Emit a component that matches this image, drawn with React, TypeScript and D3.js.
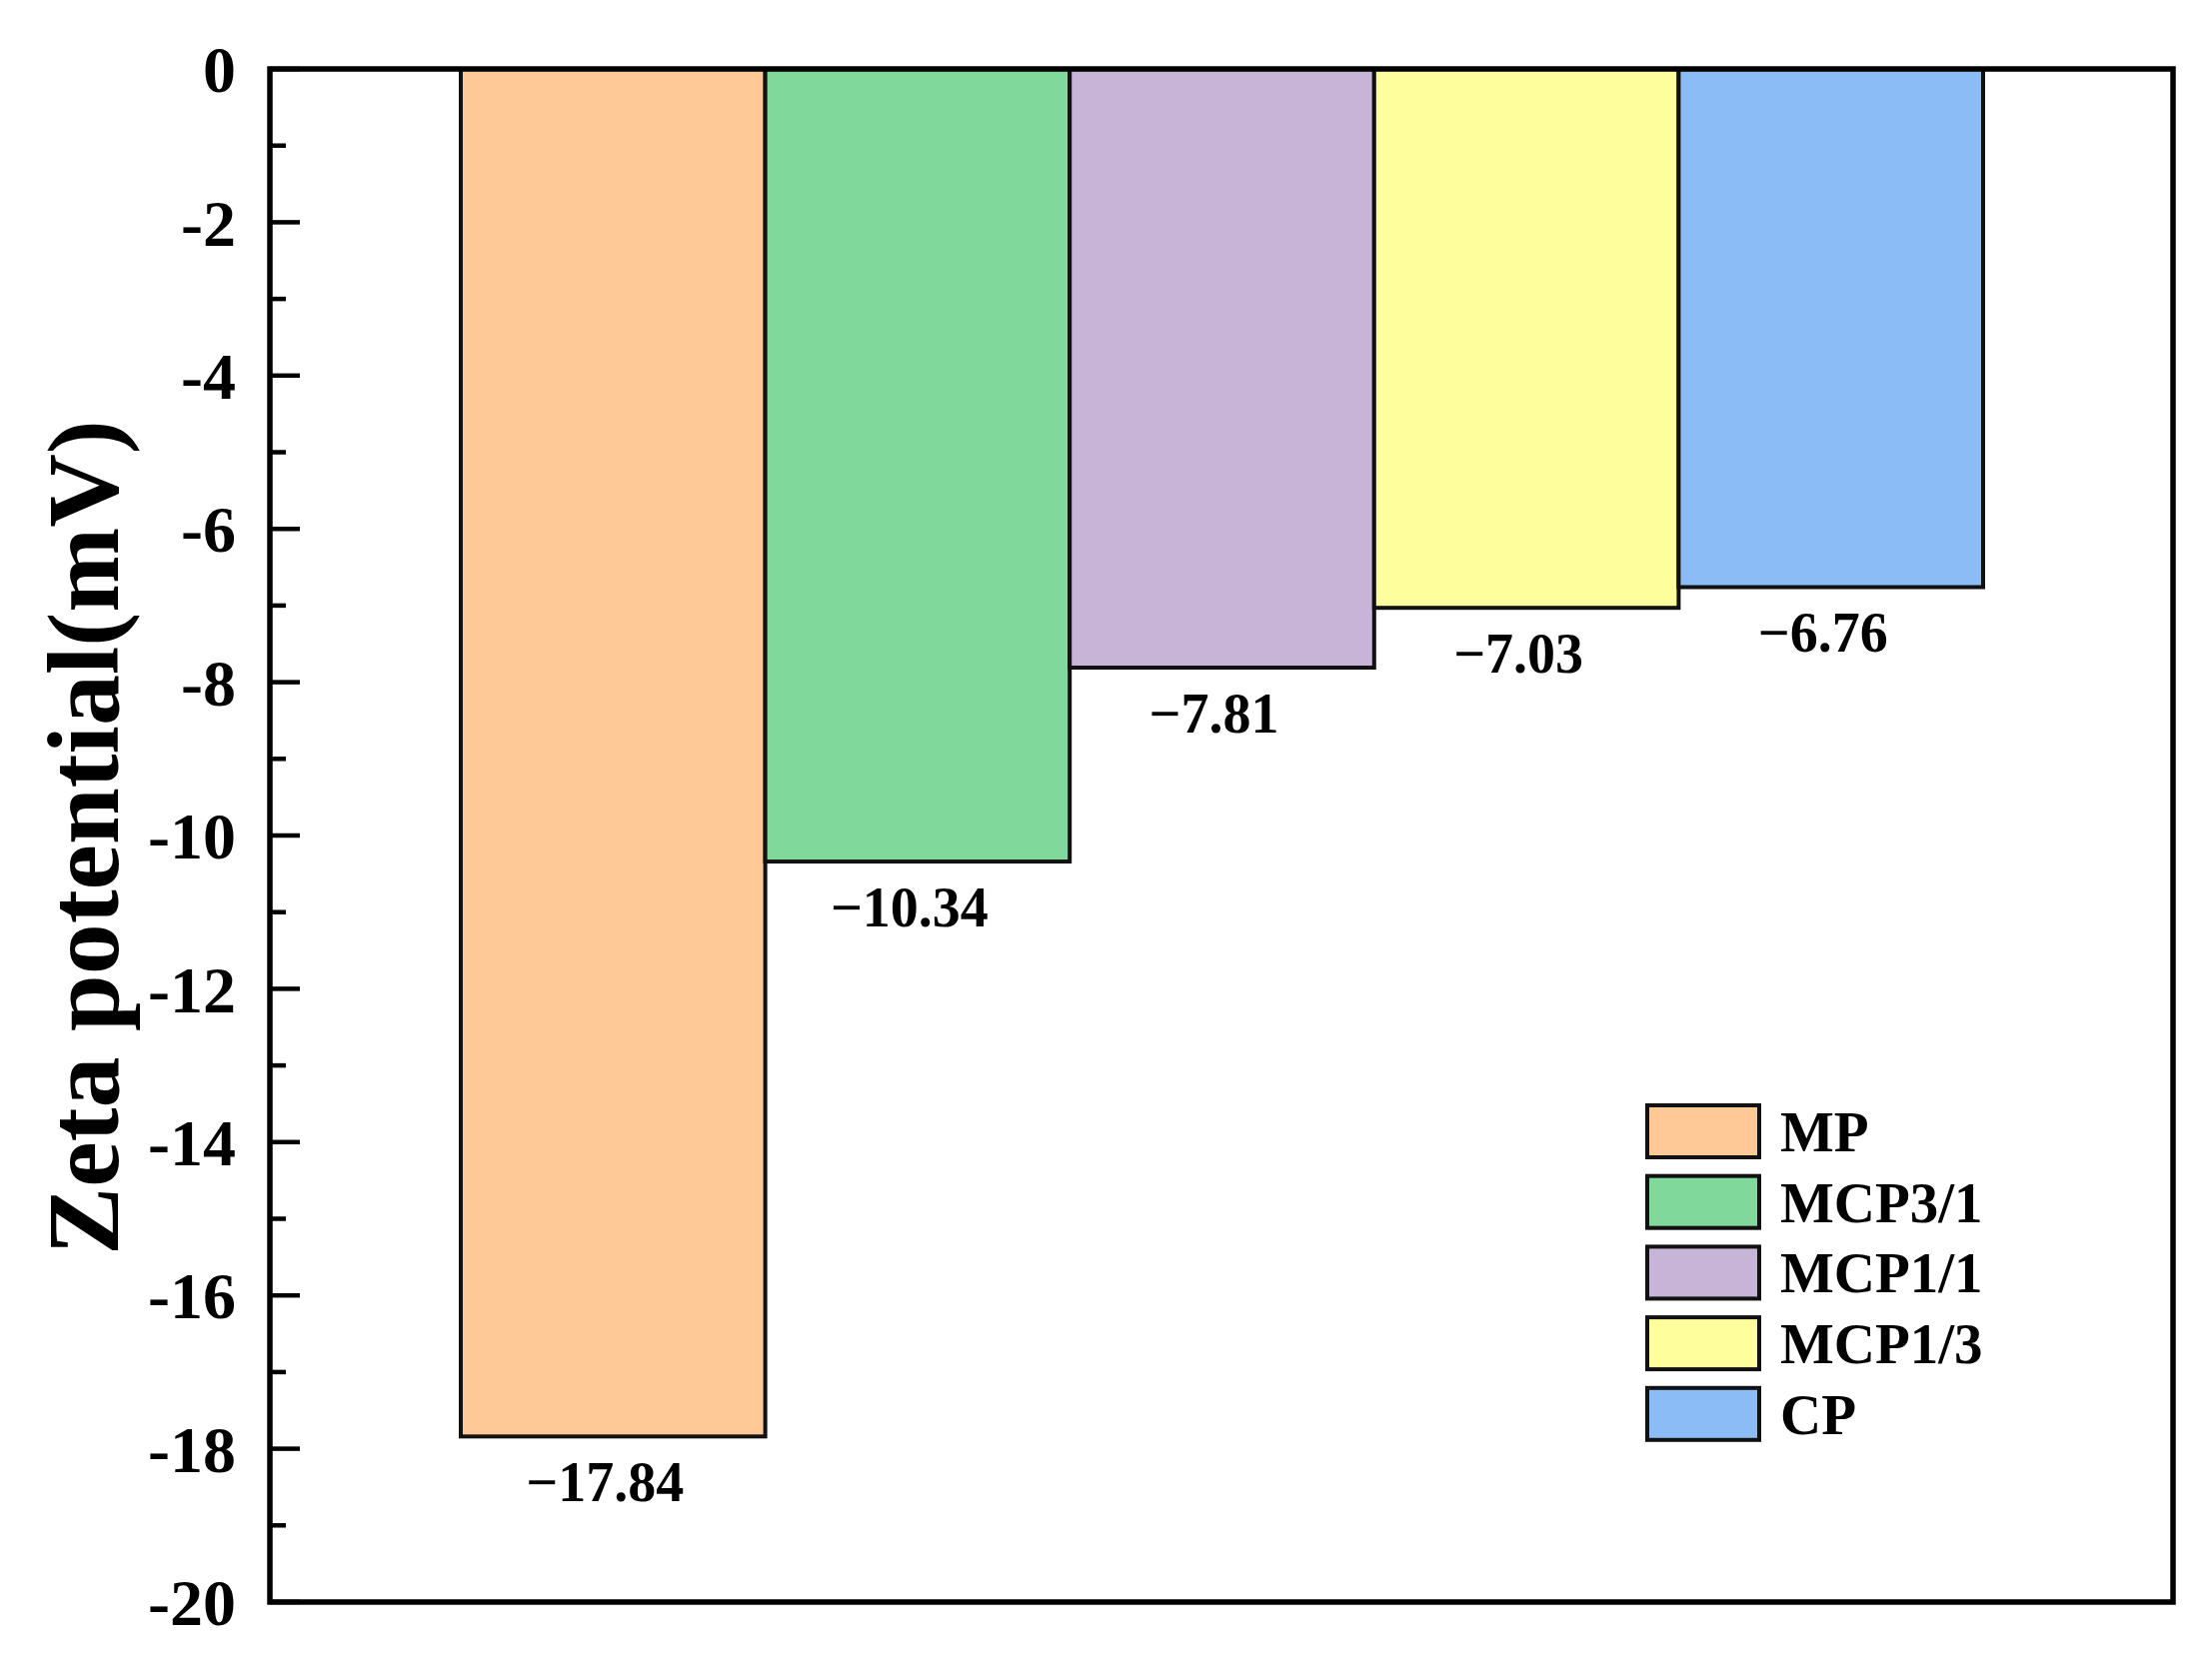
import React, { useEffect } from "react";
import * as d3 from "d3";

const categories = ["MP", "MCP3/1", "MCP1/1", "MCP1/3", "CP"];
const values = [-17.84, -10.34, -7.81, -7.03, -6.76];
const valueLabels = ["\u221217.84", "\u221210.34", "\u22127.81", "\u22127.03", "\u22126.76"];
const colors = ["#FFC896", "#80D99A", "#C8B4D7", "#FFFE9C", "#8CBCF5"];
const majorTicks = [0, -2, -4, -6, -8, -10, -12, -14, -16, -18, -20];
const minorTicks = [-1, -3, -5, -7, -9, -11, -13, -15, -17, -19];

const W = 2213;
const H = 1666;
const plot = { left: 270, right: 2174, top: 69, bottom: 1603 };
const FONT = "'Liberation Serif', 'Times New Roman', serif";

export default function App() {
  useEffect(() => {
    document.body.style.margin = "0";
  }, []);

  const y = d3.scaleLinear().domain([-20, 0]).range([plot.bottom, plot.top]);
  const x = d3.scaleBand<string>().domain(categories).range([461, 1984]).padding(0);

  const legendX = 1648;
  const legendY0 = 1106;
  const legendStep = 70.7;

  return (
    <svg width={W} height={H} viewBox={`0 0 ${W} ${H}`} style={{ display: "block", background: "#fff" }}>
      {/* bars */}
      {categories.map((c, i) => (
        <rect
          key={c}
          x={x(c)}
          y={y(0)}
          width={x.bandwidth()}
          height={y(values[i]) - y(0)}
          fill={colors[i]}
          stroke="#111"
          strokeWidth={4}
        />
      ))}
      {/* value labels */}
      {categories.map((c, i) => (
        <text
          key={"v" + c}
          x={(x(c) as number) + x.bandwidth() / 2}
          y={y(values[i]) + 65}
          dx={-8}
          textAnchor="middle"
          fontFamily={FONT}
          fontWeight="bold"
          fontSize={56}
          fill="#000"
        >
          {valueLabels[i]}
        </text>
      ))}
      {/* frame */}
      <rect
        x={plot.left}
        y={plot.top}
        width={plot.right - plot.left}
        height={plot.bottom - plot.top}
        fill="none"
        stroke="#000"
        strokeWidth={5.5}
      />
      {/* ticks */}
      {majorTicks.map((t) => (
        <g key={"M" + t}>
          <line x1={plot.left} x2={plot.left + 30} y1={y(t)} y2={y(t)} stroke="#000" strokeWidth={4.5} />
          <text
            x={236}
            y={y(t)}
            dy="0.35em"
            textAnchor="end"
            fontFamily={FONT}
            fontWeight="bold"
            fontSize={66}
            fill="#000"
          >
            {t === 0 ? "0" : "-" + Math.abs(t)}
          </text>
        </g>
      ))}
      {minorTicks.map((t) => (
        <line key={"m" + t} x1={plot.left} x2={plot.left + 16} y1={y(t)} y2={y(t)} stroke="#000" strokeWidth={4.5} />
      ))}
      {/* y title */}
      <text
        transform={`translate(82, ${(plot.top + plot.bottom) / 2 + 2}) rotate(-90)`}
        dy="0.35em"
        textAnchor="middle"
        fontFamily={FONT}
        fontWeight="bold"
        fontSize={102}
        fill="#000"
      >
        Zeta potential(mV)
      </text>
      {/* legend */}
      {categories.map((c, i) => (
        <g key={"l" + c}>
          <rect
            x={legendX}
            y={legendY0 + i * legendStep}
            width={112}
            height={52}
            fill={colors[i]}
            stroke="#111"
            strokeWidth={4}
          />
          <text
            x={1781}
            y={legendY0 + i * legendStep + 26}
            dy="0.35em"
            fontFamily={FONT}
            fontWeight="bold"
            fontSize={57}
            fill="#000"
          >
            {c}
          </text>
        </g>
      ))}
    </svg>
  );
}
